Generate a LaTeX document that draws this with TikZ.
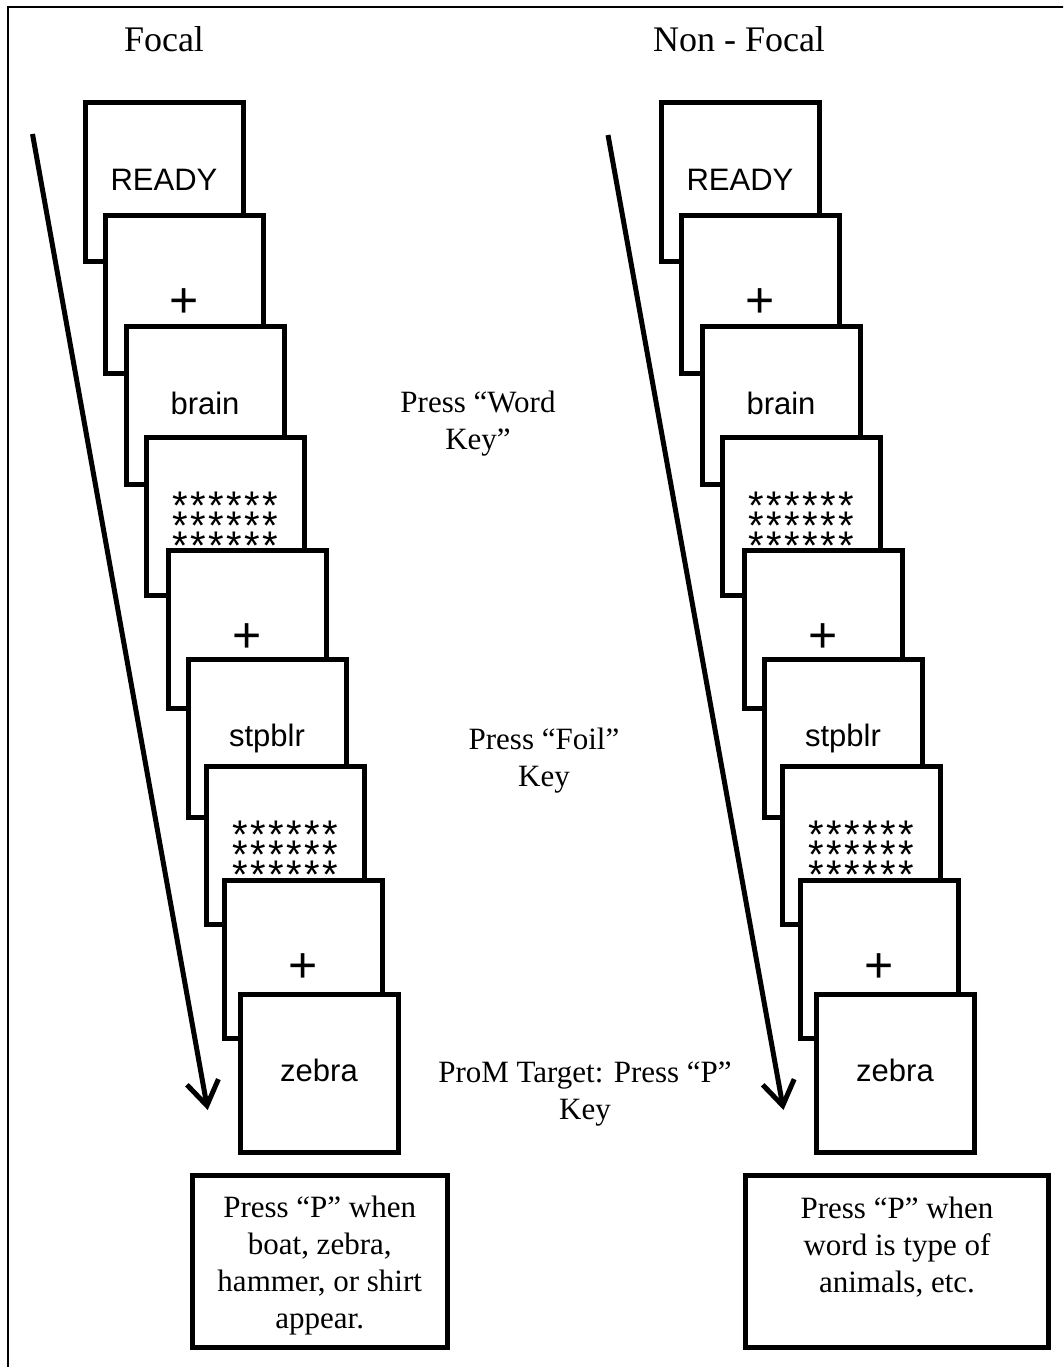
\documentclass[tikz,border=0pt]{standalone}
\usepackage{fontspec}
\setmainfont{Liberation Serif}
\setsansfont{Liberation Sans}
\usetikzlibrary{arrows.meta}

% conteudo das telas
\newcommand\fixcross{{\fontsize{50}{50}\selectfont\raisebox{-14.5pt}{+}}}
\newcommand\starrow{\hbox{*\kern2.5pt*\kern2.5pt*\kern2.5pt*\kern2.5pt*\kern2.5pt*}}
\newcommand\mask{\raisebox{-34.5pt}{\vbox{\fontsize{40}{20}\selectfont\lineskiplimit=-100pt
  \starrow\starrow\starrow}}}

\begin{document}
\begin{tikzpicture}[x=1pt, y=-1pt]

    % Estilos
    \tikzset{
        screen/.style={draw, line width=5pt, fill=white, minimum width=158pt, minimum height=158pt,
            inner sep=0pt, outer sep=0pt, anchor=north west,
            font=\sffamily\fontsize{31}{31}\selectfont, text height=17pt, text depth=0pt},
        title/.style={font=\fontsize{36}{36}\selectfont, anchor=base, inner sep=0pt},
        note/.style={font=\fontsize{31}{37}\selectfont, align=center, inner sep=0pt},
        rulebox/.style={draw, line width=5pt, inner sep=0pt, outer sep=0pt},
        timeline/.style={line width=5pt, -{Straight Barb[length=24pt, width=32pt]}}
    }

    % --------------------
    % Moldura
    % --------------------
    \useasboundingbox (0,0) rectangle (1063,1367);
    \fill[white] (0,0) rectangle (1063,1367);
    \clip (0,0) rectangle (1063,1367);
    \draw[line width=2pt] (8,7) rectangle (1090,1400);

    % Titulos
    \node[title] (focal) at (164,52) {Focal};
    \node[title] (nonfocal) at (739,52) {Non - Focal};

    % --------------------
    % Sequencia de telas
    % --------------------
    \foreach \side/\off in {L/0, R/576}{
        \foreach \i/\x/\y/\txt in {1/85/103/READY, 2/105.5/215.5/\fixcross, 3/126/326.5/brain,
                4/146.5/437.5/\mask, 5/168.5/550.5/\fixcross, 6/188/659/stpblr,
                7/206.5/766/\mask, 8/224/880/\fixcross, 9/240/994/zebra}
            \node[screen] (\side\i) at (\x+\off,\y) {\txt};
    }

    % Setas do tempo
    \coordinate (Lstart) at (32.5,134);
    \coordinate (Lend) at (207.7,1110);
    \coordinate (Rstart) at (608,135);
    \coordinate (Rend) at (783.5,1110);
    \draw[timeline] (Lstart) -- (Lend);
    \draw[timeline] (Rstart) -- (Rend);

    % Respostas
    \node[note] (wordkey) at (478,424) {Press “Word\\Key”};
    \node[note] (foilkey) at (544,761) {Press “Foil”\\Key};
    \node[note] (pkey) at (585,1094) {ProM Target: Press “P”\\Key};

    % --------------------
    % Instrucoes
    % --------------------
    \node[rulebox, minimum width=254.5pt, minimum height=172.5pt] (focalrule) at (319.75,1261.25) {};
    \node[note, anchor=north] (focaltext) at ([yshift=-21pt]focalrule.north)
        {Press “P” when\\boat, zebra,\\hammer, or shirt\\appear.};

    \node[rulebox, minimum width=303pt, minimum height=172pt] (nonfocalrule) at (897,1261.5) {};
    \node[note, anchor=north] (nonfocaltext) at ([yshift=-21pt]nonfocalrule.north)
        {Press “P” when\\word is type of\\animals, etc.};

\end{tikzpicture}
\end{document}
